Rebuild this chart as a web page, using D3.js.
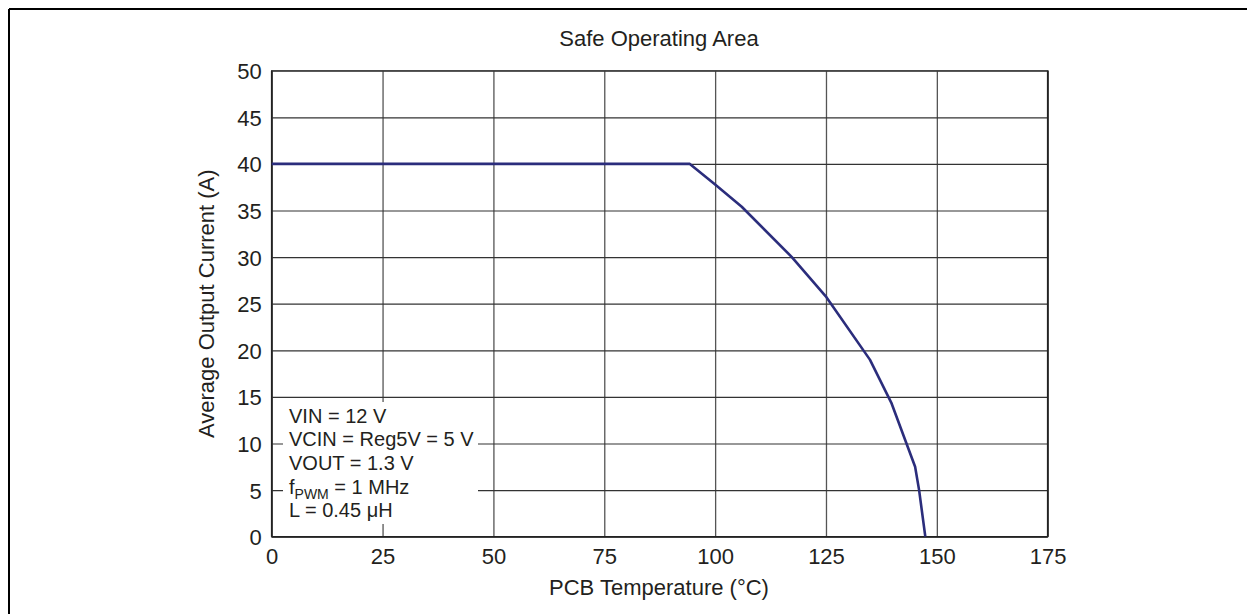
<!DOCTYPE html>
<html>
<head>
<meta charset="utf-8">
<script src="https://cdn.jsdelivr.net/npm/d3@7"></script>
<style>
  html, body { margin: 0; padding: 0; background: #fff; }
  svg { display: block; font-family: "Liberation Sans", Arial, sans-serif; }
</style>
</head>
<body>
<svg id="chart" width="1247" height="614"></svg>
<script>
// ---- data ----
const xTicks = [0, 25, 50, 75, 100, 125, 150, 175];
const yTicks = [0, 5, 10, 15, 20, 25, 30, 35, 40, 45, 50];
const temperature = [0, 94.3, 100, 106, 117.3, 125.1, 134.9, 139.8, 145.1, 146, 147.4];
const current     = [40, 40, 37.8, 35.4, 30, 25.7, 19.0, 14.3, 7.5, 5, 0];
const chartTitle = "Safe Operating Area";
const xTitle = "PCB Temperature (°C)";
const yTitle = "Average Output Current (A)";
const notes = ["VIN = 12 V", "VCIN = Reg5V = 5 V", "VOUT = 1.3 V", "fPWM = 1 MHz", "L = 0.45 μH"];

// ---- layout ----
const svg = d3.select("#chart");
const pLeft = 271.7, pRight = 1047.7, pTop = 70.7, pBottom = 536.7;
const textColor = "#231f20";
const x = d3.scaleLinear().domain([0, 175]).range([pLeft, pRight]);
const y = d3.scaleLinear().domain([0, 50]).range([pBottom, pTop]);

// outer frame (only left & top visible)
svg.append("line").attr("x1", 9).attr("x2", 1247).attr("y1", 9).attr("y2", 9)
  .attr("stroke", "#000").attr("stroke-width", 2);
svg.append("line").attr("x1", 9).attr("x2", 9).attr("y1", 9).attr("y2", 614)
  .attr("stroke", "#000").attr("stroke-width", 2);

// grid via axes
const gx = svg.append("g").attr("transform", `translate(0,${pBottom})`)
  .call(d3.axisBottom(x).tickValues(xTicks).tickSize(-(pBottom - pTop)).tickFormat(""));
gx.select(".domain").remove();
gx.selectAll(".tick line").attr("stroke", "#555").attr("stroke-width", 1.3);

const gy = svg.append("g").attr("transform", `translate(${pLeft},0)`)
  .call(d3.axisLeft(y).tickValues(yTicks).tickSize(-(pRight - pLeft)).tickFormat(""));
gy.select(".domain").remove();
gy.selectAll(".tick line").attr("stroke", "#333").attr("stroke-width", 1.2);

// annotation box (covers grid)
svg.append("rect").attr("x", 283).attr("y", 402).attr("width", 195).attr("height", 122)
  .attr("fill", "#fff");

// frame
svg.append("rect").attr("x", pLeft).attr("y", pTop).attr("width", pRight - pLeft).attr("height", pBottom - pTop)
  .attr("fill", "none").attr("stroke", "#444").attr("stroke-width", 1.3);
svg.append("line").attr("x1", pLeft).attr("x2", pLeft).attr("y1", pTop).attr("y2", pBottom)
  .attr("stroke", "#222").attr("stroke-width", 1.6);
svg.append("line").attr("x1", pLeft).attr("x2", pRight).attr("y1", pBottom).attr("y2", pBottom)
  .attr("stroke", "#222").attr("stroke-width", 1.6);
svg.append("line").attr("x1", pRight).attr("x2", pRight).attr("y1", pTop).attr("y2", pBottom)
  .attr("stroke", "#222").attr("stroke-width", 1.6);

// tick labels via axes
const lx = svg.append("g").attr("transform", `translate(0,${pBottom})`)
  .call(d3.axisBottom(x).tickValues(xTicks).tickSize(0).tickPadding(10).tickFormat(d3.format("d")));
lx.select(".domain").remove();
lx.selectAll("text").attr("font-size", 22).attr("fill", textColor)
  .attr("font-family", "'Liberation Sans', Arial, sans-serif").attr("dy", "0.72em").attr("y", 11);

const ly = svg.append("g").attr("transform", `translate(${pLeft},0)`)
  .call(d3.axisLeft(y).tickValues(yTicks).tickSize(0).tickPadding(10).tickFormat(d3.format("d")));
ly.select(".domain").remove();
ly.selectAll("text").attr("font-size", 22).attr("fill", textColor)
  .attr("font-family", "'Liberation Sans', Arial, sans-serif").attr("dy", "0.36em");

// curve
const pts = temperature.map((t, i) => [t, current[i]]);
svg.append("path").datum(pts)
  .attr("d", d3.line().x(d => x(d[0])).y(d => y(d[1])))
  .attr("fill", "none").attr("stroke", "#2b2d7c").attr("stroke-width", 2.6)
  .attr("stroke-linejoin", "round");

// titles
svg.append("text").attr("x", 659).attr("y", 46).attr("text-anchor", "middle")
  .attr("font-size", 22).attr("fill", textColor).text(chartTitle);
svg.append("text").attr("x", 659).attr("y", 595).attr("text-anchor", "middle")
  .attr("font-size", 22).attr("fill", textColor).text(xTitle);
svg.append("text").attr("transform", `translate(214,${(pTop + pBottom) / 2}) rotate(-90)`)
  .attr("text-anchor", "middle").attr("font-size", 22).attr("fill", textColor).text(yTitle);

// notes
const baselines = [422.7, 446.3, 469.9, 493.5, 517.1];
notes.forEach((n, i) => {
  const t = svg.append("text").attr("x", 289).attr("y", baselines[i])
    .attr("font-size", 20).attr("fill", textColor);
  if (n.startsWith("fPWM")) {
    t.append("tspan").text("f");
    t.append("tspan").attr("font-size", 14).attr("dy", 5).text("PWM");
    t.append("tspan").attr("dy", -5).text(n.slice(4));
  } else {
    t.text(n);
  }
});
</script>
</body>
</html>
